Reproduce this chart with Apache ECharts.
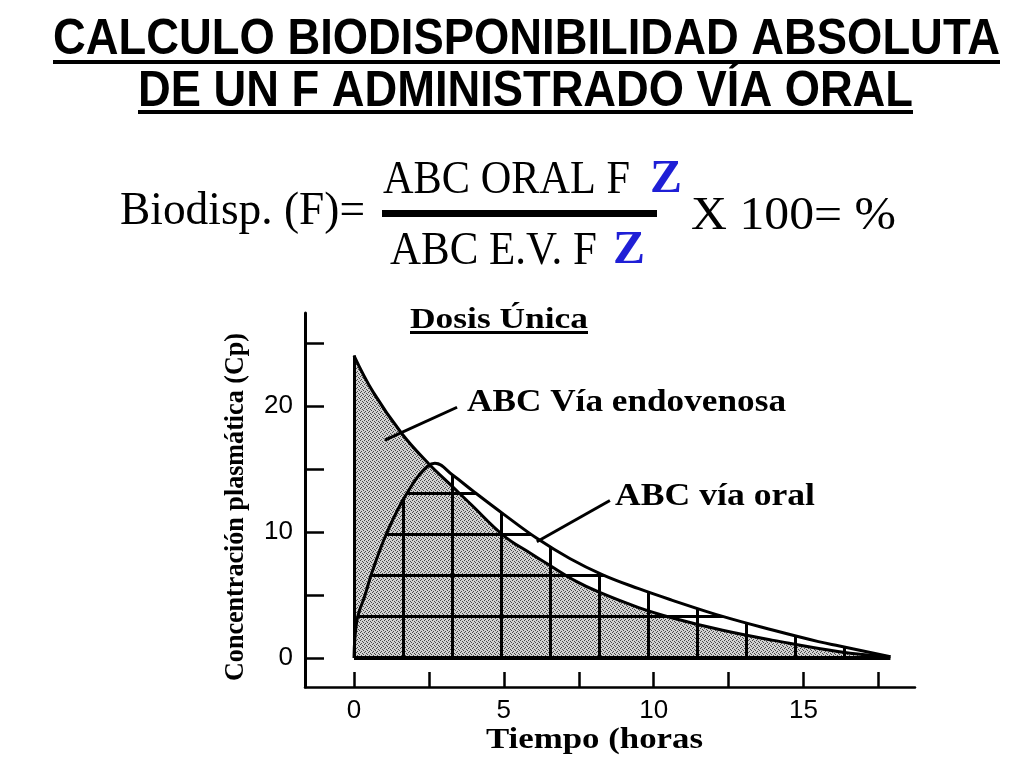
<!DOCTYPE html>
<html><head><meta charset="utf-8">
<script src="https://cdn.jsdelivr.net/npm/echarts@6/dist/echarts.min.js"></script>
<style>html,body{margin:0;padding:0;background:#fff}#c{width:1024px;height:768px}</style>
</head><body><div id="c"></div>
<script>
// ---- data ----
const ivTime = [0, 0.64, 1.6, 2.5, 3.2, 3.9, 5.0, 5.9, 6.5, 7.4, 8.2, 9.5, 10.6, 12.3, 14.0, 16.2, 17.9];
const ivConc = [24.0, 21.1, 17.8, 15.4, 13.8, 12.2, 9.7, 8.3, 7.4, 6.1, 5.2, 4.0, 3.2, 2.2, 1.4, 0.5, 0.1];
const oralTime = [0, 0.1, 0.37, 0.6, 1.0, 1.3, 1.6, 1.8, 2.1, 2.45, 2.7, 3.3, 4.0, 5.0, 6.1, 7.2, 8.3, 9.5, 10.6, 12.3, 14.0, 15.5, 16.2, 17.9];
const oralConc = [0, 3.0, 5.0, 6.8, 9.4, 11.0, 12.4, 13.2, 14.3, 15.2, 15.45, 14.5, 13.2, 11.4, 9.5, 7.9, 6.6, 5.5, 4.6, 3.3, 2.2, 1.3, 0.95, 0.1];
const xTickValues = [0, 2.5, 5, 7.5, 10, 12.5, 15, 17.5];
const xLabelValues = [0, 5, 10, 15];
const yTickValues = [0, 5, 10, 15, 20, 25];
const yLabelValues = [0, 10, 20];
const ivLeader = [[3.44, 19.9], [1.03, 17.3]];
const oralLeader = [[8.54, 12.5], [6.1, 9.23]];
const ivEdge = [[0, 0], [0, 24]];
const baseLine = [[0, 0], [17.9, 0]];

// ---- textures ----
function dotPattern() {
  const c = document.createElement('canvas'); c.width = 4; c.height = 4;
  const g = c.getContext('2d');
  g.fillStyle = '#d2d2d2'; g.fillRect(0, 0, 4, 4);
  g.fillStyle = '#4a4a4a';
  [[0,0],[2,1],[1,3],[3,2]].forEach(p => g.fillRect(p[0], p[1], 1, 1));
  return c;
}
function gridPattern() {
  const c = document.createElement('canvas'); c.width = 49; c.height = 41;
  const g = c.getContext('2d');
  g.fillStyle = '#000';
  g.fillRect(10, 0, 3, 41);
  g.fillRect(0, 0, 49, 3);
  return c;
}

const mctx = document.createElement('canvas').getContext('2d');
function fitText(text, font, fs, left, right, capCenter, fill) {
  mctx.font = font;
  const w = mctx.measureText(text).width;
  return {type: 'text', x: (left + right) / 2, y: capCenter + 0.05 * fs, scaleX: (right - left) / w, z: 10,
    style: {text: text, font: font, fill: fill || '#000', align: 'center', verticalAlign: 'middle'}};
}
const SANS = '"Liberation Sans", Arial, sans-serif';
const SERIF = '"Liberation Serif", "Times New Roman", serif';
const BLUE = '#1f1fd6';

const yName = (function () {
  const fs = 27, font = 'bold ' + fs + 'px ' + SERIF, text = 'Concentración plasmática (Cp)';
  mctx.font = font;
  const w = mctx.measureText(text).width;
  return {type: 'text', x: 236, y: 507, rotation: Math.PI / 2, scaleX: 348 / w, z: 10,
    style: {text: text, font: font, fill: '#000', align: 'center', verticalAlign: 'middle'}};
})();

const graphics = [
  fitText('CALCULO BIODISPONIBILIDAD ABSOLUTA', 'bold 50px ' + SANS, 50, 53, 1000, 38),
  {type: 'rect', shape: {x: 53, y: 60, width: 947, height: 4}, style: {fill: '#000'}},
  fitText('DE UN F ADMINISTRADO VÍA ORAL', 'bold 50px ' + SANS, 50, 138, 913, 90),
  {type: 'rect', shape: {x: 138, y: 110, width: 775, height: 4}, style: {fill: '#000'}},
  fitText('Biodisp. (F)=', '47px ' + SERIF, 47, 120, 365, 209),
  fitText('ABC ORAL F', '47px ' + SERIF, 47, 383, 630, 178),
  fitText('Z', 'bold 47px ' + SERIF, 47, 650, 682, 178, BLUE),
  {type: 'rect', shape: {x: 382, y: 210, width: 275, height: 7}, style: {fill: '#000'}},
  fitText('ABC E.V. F', '47px ' + SERIF, 47, 390, 597, 249),
  fitText('Z', 'bold 47px ' + SERIF, 47, 613, 645, 249, BLUE),
  fitText('X 100= %', '47px ' + SERIF, 47, 691, 896, 214),
  fitText('Dosis Única', 'bold 29px ' + SERIF, 29, 410, 588, 319),
  {type: 'rect', shape: {x: 410, y: 331, width: 178, height: 3}, style: {fill: '#000'}},
  fitText('ABC Vía endovenosa', 'bold 31px ' + SERIF, 31, 467, 786, 401),
  fitText('ABC vía oral', 'bold 31px ' + SERIF, 31, 615, 815, 495),
  fitText('Tiempo (horas', 'bold 30px ' + SERIF, 30, 486, 703, 739),
  yName
];

const seg = (a) => [{coord: a[0]}, {coord: a[1]}];
const chart = echarts.init(document.getElementById('c'), null, {renderer: 'canvas', devicePixelRatio: 1});
chart.setOption({
  animation: false,
  backgroundColor: '#fff',
  grid: {left: 305, right: 109, top: 313, bottom: 81, containLabel: false},
  xAxis: {
    type: 'value', min: -1.635, max: 18.72,
    axisLine: {show: true, onZero: false, lineStyle: {color: '#000', width: 2.5}},
    axisTick: {show: true, inside: true, length: 15, customValues: xTickValues, lineStyle: {color: '#000', width: 2.5}},
    axisLabel: {customValues: xLabelValues, color: '#000', fontFamily: SANS, fontSize: 26, margin: 11},
    splitLine: {show: false}
  },
  yAxis: {
    type: 'value', min: -2.3, max: 27.38,
    axisLine: {show: true, onZero: false, lineStyle: {color: '#000', width: 3}},
    axisTick: {show: true, inside: true, length: 19, customValues: yTickValues, lineStyle: {color: '#000', width: 2.5}},
    axisLabel: {customValues: yLabelValues, color: '#000', fontFamily: SANS, fontSize: 26, margin: 12},
    splitLine: {show: false}
  },
  series: [
    {
      type: 'line', name: 'ABC Vía endovenosa', z: 2,
      data: ivTime.map((t, i) => [t, ivConc[i]]),
      smooth: 0.4, showSymbol: false, silent: true,
      lineStyle: {color: '#000', width: 3},
      areaStyle: {color: {image: dotPattern(), repeat: 'repeat'}, opacity: 1}
    },
    {
      type: 'line', name: 'ABC vía oral', z: 3,
      data: oralTime.map((t, i) => [t, oralConc[i]]),
      smooth: 0.4, showSymbol: false, silent: true,
      lineStyle: {color: '#000', width: 3},
      areaStyle: {color: {image: gridPattern(), repeat: 'repeat'}, opacity: 1},
      markLine: {
        silent: true, symbol: ['none', 'none'], label: {show: false},
        lineStyle: {color: '#000', width: 3, type: 'solid'},
        data: [seg(ivLeader), seg(oralLeader), seg(ivEdge), seg(baseLine)]
      }
    }
  ],
  graphic: graphics
});
</script>
</body></html>
